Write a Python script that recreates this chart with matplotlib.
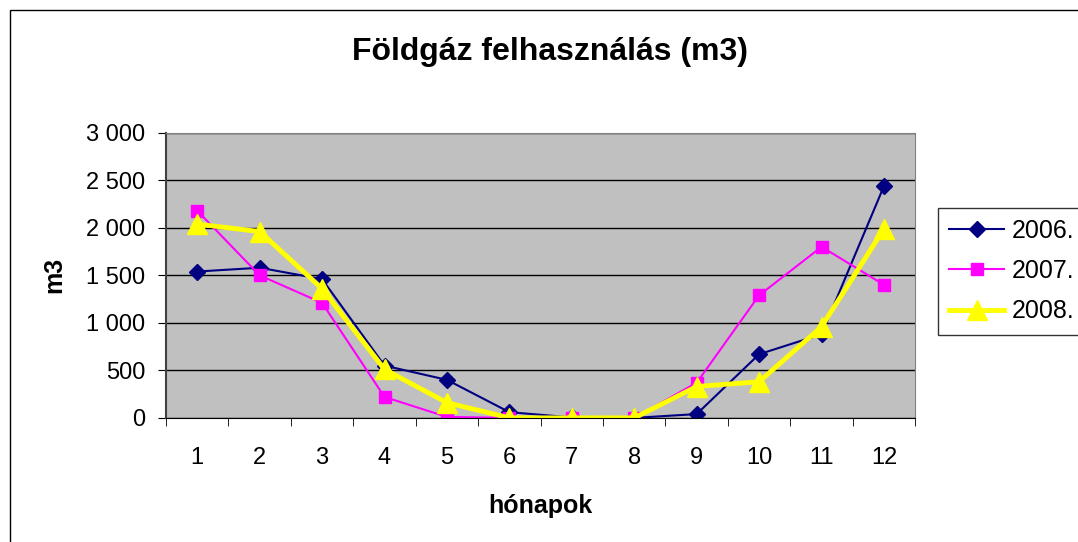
import matplotlib.pyplot as plt
from matplotlib.patches import Rectangle

plt.rcParams["font.family"] = ["Liberation Sans", "DejaVu Sans"]

months = [1, 2, 3, 4, 5, 6, 7, 8, 9, 10, 11, 12]
gas_2006 = [1540, 1580, 1460, 550, 400, 60, 5, 0, 40, 670, 880, 2440]
gas_2007 = [2180, 1500, 1210, 220, 10, 0, 0, 0, 370, 1290, 1800, 1400]
gas_2008 = [2040, 1960, 1360, 510, 160, 0, 0, 0, 330, 380, 960, 1990]
y_ticks = [0, 500, 1000, 1500, 2000, 2500, 3000]
y_labels = ["0", "500", "1 000", "1 500", "2 000", "2 500", "3 000"]

fig = plt.figure(figsize=(10.78, 5.42), dpi=100)
ax = fig.add_axes([0.154, 0.229, 0.695, 0.526])

# outer chart frame
fig.patches.append(Rectangle((10 / 1078, -0.1), 1.2, 1 - 10 / 542 + 0.1,
                             transform=fig.transFigure, fill=False,
                             edgecolor="black", linewidth=1))

ax.set_facecolor("#C0C0C0")

ax.plot(months, gas_2006, color="#000080", linewidth=1.5, marker="D",
        markersize=8, label="2006.")
ax.plot(months, gas_2007, color="#FF00FF", linewidth=1.5, marker="s",
        markersize=8, label="2007.")
ax.plot(months, gas_2008, color="#FFFF00", linewidth=3.5, marker="^",
        markersize=15, label="2008.")

ax.set_xlim(0.5, 12.5)
ax.set_ylim(0, 3000)
ax.set_yticks(y_ticks)
ax.set_yticklabels(y_labels, fontsize=17)
ax.set_xticks(months)
ax.set_xticklabels([str(m) for m in months], fontsize=17)
ax.set_xticks([m + 0.5 for m in range(0, 13)], minor=True)
ax.tick_params(axis="x", which="major", length=0, pad=21)
ax.tick_params(axis="x", which="minor", length=6, direction="out")
ax.tick_params(axis="y", length=6, direction="out", pad=9)

ax.yaxis.grid(True, color="black", linewidth=1)
ax.set_axisbelow(True)
for side in ["top", "right"]:
    ax.spines[side].set_color("#808080")
ax.spines["left"].set_color("#404040")
ax.spines["left"].set_linewidth(1.5)
ax.spines["bottom"].set_color("black")

ax.set_xlabel("hónapok", fontsize=18, fontweight="bold", labelpad=18)
ax.set_ylabel("m3", fontsize=18, fontweight="bold", labelpad=14)
fig.text(0.51, 0.904, "Földgáz felhasználás (m3)", ha="center", va="center",
         fontsize=23, fontweight="bold")

leg = ax.legend(loc="center left", bbox_to_anchor=(938 / 1078, 0.5),
                bbox_transform=fig.transFigure, fontsize=18, frameon=True,
                fancybox=False, edgecolor="black", borderpad=0.45,
                borderaxespad=0, handlelength=2.2, labelspacing=0.65,
                handletextpad=0.3)
leg.get_frame().set_linewidth(1)

fig.savefig("out.png", dpi=100)
